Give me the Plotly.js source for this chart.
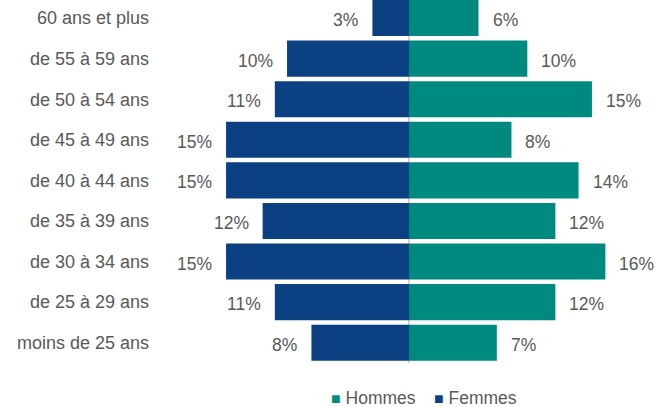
<!DOCTYPE html>
<html>
<head>
<meta charset="utf-8">
<script src="https://cdn.plot.ly/plotly-3.0.1.min.js"></script>
<style>html,body{margin:0;padding:0;background:#fff;}#chart{width:656px;height:407px;}</style>
</head>
<body>
<div id="chart"></div>
<script>
// Age groups, bottom to top
var categories = ["moins de 25 ans", "de 25 à 29 ans", "de 30 à 34 ans", "de 35 à 39 ans",
  "de 40 à 44 ans", "de 45 à 49 ans", "de 50 à 54 ans", "de 55 à 59 ans", "60 ans et plus"];
// Share of each age group (%)
var femmes = [8.0, 11.0, 15.0, 12.0, 15.0, 15.0, 11.0, 10.0, 3.0];
var hommes = [7.2, 12.0, 16.1, 12.0, 13.9, 8.4, 15.0, 9.7, 5.7];
var seriesNames = ["Hommes", "Femmes"];
var seriesColors = ["#00897F", "#0B4182"];

var FONT = "Liberation Sans, Arial, sans-serif";
var GRAY = "#595959";

var femmesNeg = femmes.map(function (v) { return -v; });

var traces = [
  {
    type: "bar", orientation: "h", name: seriesNames[0],
    x: hommes, y: categories,
    marker: { color: seriesColors[0], line: { width: 0 } },
    hoverinfo: "none"
  },
  {
    type: "bar", orientation: "h", name: seriesNames[1],
    x: femmesNeg, y: categories,
    marker: { color: seriesColors[1], line: { width: 0 } },
    hoverinfo: "none"
  }
];

var annotations = [];
categories.forEach(function (c, i) {
  annotations.push({
    x: hommes[i], y: c, xref: "x", yref: "y", text: Math.round(hommes[i]) + "%",
    showarrow: false, xanchor: "left", yanchor: "middle", xshift: 12, yshift: -2,
    font: { family: FONT, size: 17.5, color: GRAY }
  });
  annotations.push({
    x: femmesNeg[i], y: c, xref: "x", yref: "y", text: Math.round(femmes[i]) + "%",
    showarrow: false, xanchor: "right", yanchor: "middle", xshift: -12, yshift: -2,
    font: { family: FONT, size: 17.5, color: GRAY }
  });
});

// Legend drawn as text entries (small coloured square + series name)
var legendX = [0.351, 0.5555];
seriesNames.forEach(function (name, i) {
  annotations.push({
    xref: "paper", yref: "paper", x: legendX[i], y: -0.096,
    xanchor: "left", yanchor: "middle", showarrow: false,
    text: '<span style="color:' + seriesColors[i] + ';font-size:16px">■</span> ' + name,
    font: { family: FONT, size: 17.5, color: GRAY }
  });
});

var layout = {
  width: 656, height: 407,
  margin: { l: 152, r: 0, t: 0, b: 44, autoexpand: false },
  paper_bgcolor: "#ffffff", plot_bgcolor: "#ffffff",
  barmode: "overlay", bargap: 0.11,
  font: { family: FONT, size: 17.5, color: GRAY },
  xaxis: {
    range: [-21.07, 20.25], showgrid: false, showticklabels: false, ticks: "",
    zeroline: true, zerolinecolor: "#D4D4D4", zerolinewidth: 2, layer: "above traces",
    showline: false, fixedrange: true
  },
  yaxis: {
    type: "category", categoryarray: categories, categoryorder: "array",
    range: [-0.5, 8.444], showgrid: false, zeroline: false, showline: false,
    ticks: "", ticklabelstandoff: 2,
    tickfont: { family: FONT, size: 18, color: GRAY }, fixedrange: true
  },
  showlegend: false,
  annotations: annotations
};

Plotly.newPlot("chart", traces, layout, { staticPlot: true, displayModeBar: false });
</script>
</body>
</html>
